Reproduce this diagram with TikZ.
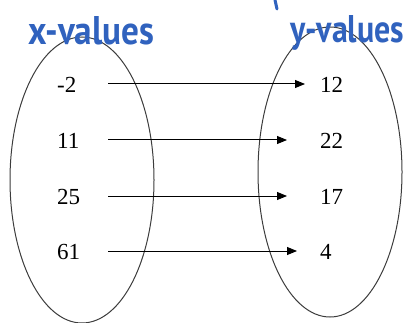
\documentclass[tikz,border=0pt]{standalone}
\usepackage{fontspec}
\setmainfont{Liberation Serif}
\newfontfamily\handfont{PT Sans}
\usetikzlibrary{arrows.meta}
\definecolor{penblue}{RGB}{48,98,190}
\definecolor{setgray}{RGB}{60,60,60}
\tikzset{
  setoval/.style={draw=setgray, line width=1pt},
  numlbl/.style={anchor=west, inner sep=0pt, font=\fontsize{23}{26}\selectfont},
  mapto/.style={line width=1pt, -{Triangle[length=10pt,width=8pt]}},
  hand/.style={text=penblue, inner sep=0pt, anchor=base west},
}
\begin{document}
\begin{tikzpicture}[x=1pt,y=-1pt]
\useasboundingbox (0,0) rectangle (406,323);
% sets
\draw[setoval] (82,180) ellipse [x radius=72, y radius=143];
\draw[setoval] (330,172) ellipse [x radius=72, y radius=145];
% labels
\node[hand] (xl) at (28,45) {\resizebox{126pt}{28pt}{\handfont\bfseries x-values}};
\node[hand] (yl) at (290,43) {\resizebox{114pt}{27pt}{\handfont\bfseries y-values}};
\draw[penblue, line width=3pt, line cap=round] (275,0) -- (277,9);
% domain
\node[numlbl] (a1) at (57,85) {-2};
\node[numlbl] (a2) at (57,141) {11};
\node[numlbl] (a3) at (57,197) {25};
\node[numlbl] (a4) at (57,252) {61};
% range
\node[numlbl] (b1) at (320,85) {12};
\node[numlbl] (b2) at (320,141) {22};
\node[numlbl] (b3) at (320,197) {17};
\node[numlbl] (b4) at (320,252) {4};
% arrows
\coordinate (s1) at (108,84);  \coordinate (e1) at (305,84);
\coordinate (s2) at (108,140); \coordinate (e2) at (287,140);
\coordinate (s3) at (108,196); \coordinate (e3) at (287,196);
\coordinate (s4) at (108,251); \coordinate (e4) at (297,251);
\draw[mapto] (s1) -- (e1);
\draw[mapto] (s2) -- (e2);
\draw[mapto] (s3) -- (e3);
\draw[mapto] (s4) -- (e4);
\end{tikzpicture}
\end{document}
